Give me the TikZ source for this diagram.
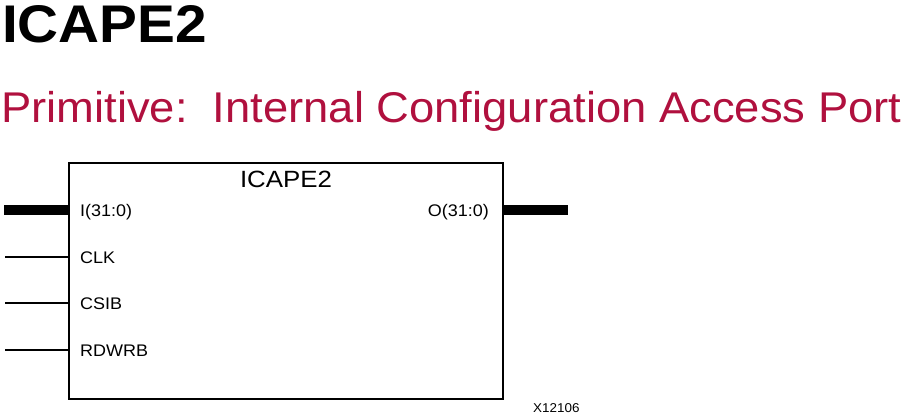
\documentclass[tikz,border=0pt]{standalone}
\usepackage{fontspec}
\setmainfont{Liberation Sans}
\definecolor{subred}{RGB}{176,16,62}
\newcommand{\lblfont}[1]{\scalebox{1.07}[1]{\fontsize{16.8}{18}\selectfont #1}}
\begin{document}
\begin{tikzpicture}[x=1pt,y=-1pt,
  pin/.style={line width=2pt},
  bus/.style={line width=10pt},
  lbl/.style={inner sep=0pt}]
\useasboundingbox (0,0) rectangle (904,414);
\node[inner sep=0pt,anchor=base west] (title) at (2,43)
  {\scalebox{1.07}[1]{\fontsize{53}{60}\selectfont\bfseries ICAPE2}};
\node[inner sep=0pt,anchor=base west,text=subred] (sub) at (1,123)
  {\scalebox{1.055}[1]{\fontsize{43}{50}\selectfont Primitive:\ \ Internal Configuration Access Port}};
\node[draw,line width=2pt,minimum width=434pt,minimum height=236pt,anchor=north west,inner sep=0pt] (box) at (68,162) {};
\node[inner sep=0pt,anchor=base] (name) at (286,187.5) {\scalebox{1.1}[1]{\fontsize{23.5}{26}\selectfont ICAPE2}};
\coordinate (iin) at (4,210);
\coordinate (iend) at (box.west |- iin);
\coordinate (clkin) at (5,257);
\coordinate (clkend) at (box.west |- clkin);
\coordinate (csin) at (5,303);
\coordinate (csend) at (box.west |- csin);
\coordinate (rdin) at (5,350);
\coordinate (rdend) at (box.west |- rdin);
\coordinate (oout) at (568,210);
\coordinate (ostart) at (box.east |- oout);
\draw[bus] (iin) -- (iend);
\draw[pin] (clkin) -- (clkend);
\draw[pin] (csin) -- (csend);
\draw[pin] (rdin) -- (rdend);
\draw[bus] (ostart) -- (oout);
\node[lbl,anchor=base west] (li) at (80,216) {\lblfont{I(31:0)}};
\node[lbl,anchor=base west] (lclk) at (80,263) {\lblfont{CLK}};
\node[lbl,anchor=base west] (lcs) at (80,309) {\lblfont{CSIB}};
\node[lbl,anchor=base west] (lrd) at (80,356) {\lblfont{RDWRB}};
\node[lbl,anchor=base east] (lo) at (489,216) {\lblfont{O(31:0)}};
\node[inner sep=0pt,anchor=base west] (code) at (533,412) {\scalebox{1.05}[1]{\fontsize{12.8}{14}\selectfont X12106}};
\end{tikzpicture}
\end{document}
